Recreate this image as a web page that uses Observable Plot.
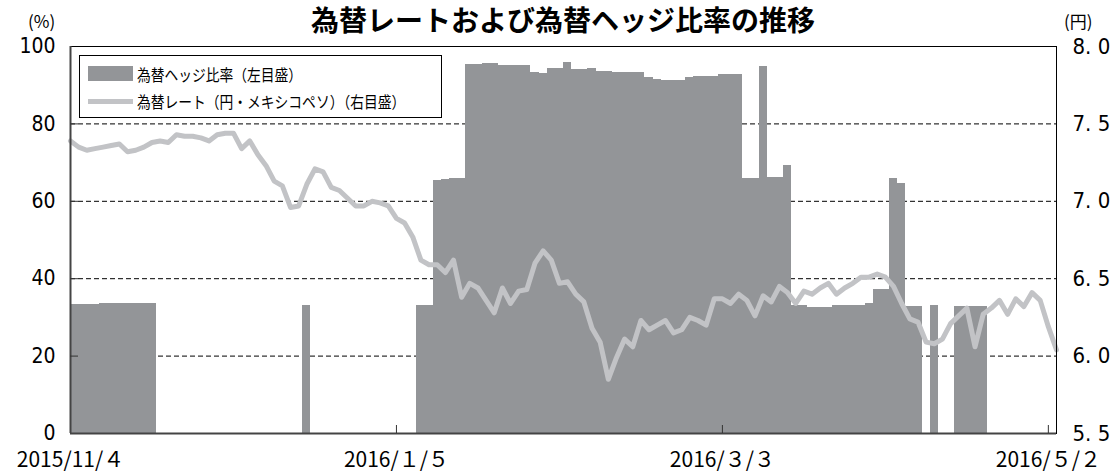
<!DOCTYPE html>
<html>
<head>
<meta charset="utf-8">
<script src="https://cdn.jsdelivr.net/npm/d3@7"></script>
<script src="https://cdn.jsdelivr.net/npm/@observablehq/plot@0.6"></script>
<style>
  body { margin: 0; background: #fff; }
  #wrap { position: relative; width: 1116px; height: 473px; overflow: hidden; font-family: "Noto Sans CJK JP", sans-serif; color: #000; }
  #chart { position: absolute; left: 0; top: 0; }
  #title { position: absolute; left: 70px; width: 986px; top: 1px; text-align: center; font-size: 28px; font-weight: bold; line-height: 36px; white-space: nowrap; }
  .unit { position: absolute; top: 11px; font-size: 17px; line-height: 20px; white-space: nowrap; }
  #legend { position: absolute; left: 79px; top: 55px; width: 363px; height: 63px; border: 1px solid #000; background: #fff; box-sizing: border-box; }
  .sw { position: absolute; left: 8px; width: 45px; }
  .lt { position: absolute; left: 57px; font-size: 16px; line-height: 20px; white-space: nowrap; transform: scaleX(0.86); transform-origin: left center; }
</style>
</head>
<body>
<div id="wrap">
  <div id="chart"></div>
  <div id="title"></div>
  <div class="unit" id="unitL" style="left:28px;"></div>
  <div class="unit" id="unitR" style="left:1064px;"></div>
  <div id="legend">
    <div class="sw" style="top:10px;height:15px;background:#939598;"></div>
    <div class="lt" id="leg1" style="top:8px;"></div>
    <div class="sw" style="top:43px;height:5px;background:#c2c3c6;"></div>
    <div class="lt" id="leg2" style="top:35px;"></div>
  </div>
</div>
<script>
// ---- data ----
const titleText = "為替レートおよび為替ヘッジ比率の推移";
const unitLeft = "(%)";
const unitRight = "(円)";
const seriesNames = ["為替ヘッジ比率（左目盛）", "為替レート（円・メキシコペソ）（右目盛）"];

// x tick labels (business-day index positions)
const tickIndex = [0, 40, 80, 120];
const tickLabels = ["2015/11/４", "2016/１/５", "2016/３/３", "2016/５/２"];

const leftTicks = [0, 20, 40, 60, 80, 100];
const rightMin = 5.5, rightMax = 8.0;
const rightTicks = [5.5, 6.0, 6.5, 7.0, 7.5, 8.0];

// hedge ratio (%) per business day
const hedgeRatio = [
  33.3, 33.3, 33.3, 33.3, 33.6, 33.6, 33.6, 33.6, 33.6, 33.6, 33.6,
  0, 0, 0, 0, 0, 0, 0, 0, 0, 0, 0, 0, 0, 0, 0, 0, 0, 0,
  33.0,
  0, 0, 0, 0, 0, 0, 0, 0, 0, 0, 0, 0, 0,
  33.0, 33.0,
  65.5, 65.7, 65.9, 66.0,
  95.4, 95.4, 95.6, 95.6,
  95.1, 95.1, 95.1, 95.1,
  93.4, 92.9, 94.3, 94.3, 95.9, 94.0, 94.0, 94.3, 93.6, 93.6,
  93.4, 93.4, 93.4, 93.2, 92.1, 91.6, 91.2, 91.2, 91.2, 91.9,
  92.3, 92.3, 92.3, 92.7, 92.7, 92.8,
  65.9, 66.0, 94.9, 66.1, 66.1, 69.3,
  33.1, 33.1, 32.6, 32.6, 32.6, 33.2, 33.2, 33.2, 33.2, 33.6,
  37.2, 37.2, 65.8, 64.5, 32.8, 32.8, 0, 33.1, 0, 0,
  32.9, 32.9, 32.9, 32.9,
  0, 0, 0, 0, 0, 0, 0, 0, 0
];

// JPY per MXN per business day
const rateJPYMXN = [
  7.39, 7.35, 7.33, 7.34, 7.35, 7.36, 7.37, 7.32, 7.33, 7.35,
  7.38, 7.39, 7.38, 7.43, 7.42, 7.42, 7.41, 7.39, 7.43, 7.44,
  7.44, 7.34, 7.39, 7.30, 7.23, 7.13, 7.10, 6.96, 6.97, 7.11,
  7.21, 7.19, 7.09, 7.07, 7.02, 6.97, 6.97, 7.00, 6.99, 6.97,
  6.89, 6.86, 6.77, 6.62, 6.59, 6.59, 6.54, 6.62, 6.38, 6.47,
  6.44, 6.36, 6.28, 6.44, 6.34, 6.42, 6.43, 6.60, 6.68, 6.62,
  6.47, 6.48, 6.40, 6.35, 6.18, 6.09, 5.85, 5.99, 6.11, 6.06,
  6.23, 6.17, 6.20, 6.23, 6.15, 6.17, 6.25, 6.23, 6.20, 6.37,
  6.37, 6.34, 6.40, 6.36, 6.26, 6.39, 6.35, 6.45, 6.41, 6.34,
  6.42, 6.40, 6.44, 6.47, 6.40, 6.44, 6.47, 6.51, 6.51, 6.53,
  6.51, 6.45, 6.34, 6.24, 6.22, 6.09, 6.08, 6.11, 6.21, 6.26,
  6.31, 6.06, 6.27, 6.31, 6.36, 6.27, 6.37, 6.32, 6.41, 6.36,
  6.19, 6.04
];

// ---- build ----
document.getElementById("title").textContent = titleText;
document.getElementById("unitL").textContent = unitLeft;
document.getElementById("unitR").textContent = unitRight;
document.getElementById("leg1").textContent = seriesNames[0];
document.getElementById("leg2").textContent = seriesNames[1];

const data = hedgeRatio.map((h, i) => ({ i, hedge: h, rate: rateJPYMXN[i] }));
const toLeft = v => (v - rightMin) / (rightMax - rightMin) * 100;
const fromLeft = p => rightMin + p / 100 * (rightMax - rightMin);
const numFont = '"Liberation Sans Narrow", "Arial Narrow", "DejaVu Sans Condensed", sans-serif';

const chart = Plot.plot({
  width: 1116,
  height: 473,
  marginTop: 46,
  marginBottom: 40,
  marginLeft: 70,
  marginRight: 60,
  x: { domain: [0, hedgeRatio.length - 1], axis: null },
  y: { domain: [0, 100], axis: null },
  style: { background: "transparent", fontFamily: numFont, color: "#000" },
  marks: [
    Plot.ruleY(leftTicks.filter(t => t > 0 && t < 100), { stroke: "#000", strokeWidth: 1, strokeDasharray: "5,3" }),
    Plot.rectY(data.filter(d => d.hedge > 0), {
      x1: d => d.i - 0.5, x2: d => d.i + 0.5, y1: 0, y2: "hedge",
      fill: "#939598", clip: true, shapeRendering: "crispEdges"
    }),
    Plot.lineY(data, { x: "i", y: d => toLeft(d.rate), stroke: "#c2c3c6", strokeWidth: 5, strokeLinejoin: "round" }),
    Plot.frame({ stroke: "#000", strokeWidth: 1 }),
    Plot.ruleX([0], { stroke: "#444", strokeWidth: 2 }),
    Plot.ruleY([0], { stroke: "#444", strokeWidth: 2 }),
    Plot.axisY({ ticks: leftTicks, anchor: "left", label: null, tickSize: 0, tickPadding: 15, fontSize: 21, fontFamily: numFont, tickFormat: d => String(d) }),
    Plot.axisY({ ticks: leftTicks.filter(t => t > 0 && t < 100), anchor: "left", label: null, tickSize: -8, text: null, stroke: "#333" }),
    Plot.axisY({ ticks: rightTicks.map(toLeft), anchor: "right", label: null, tickSize: 0, tickPadding: 16, fontSize: 22, fontFamily: numFont,
      tickFormat: d => fromLeft(d).toFixed(1).replace(".", ". ") }),
    Plot.axisX({ ticks: tickIndex, anchor: "bottom", label: null, tickSize: 0, tickPadding: 19, fontSize: 21, fontFamily: "Noto Sans CJK JP",
      tickFormat: d => tickLabels[tickIndex.indexOf(d)] }),
    Plot.axisX({ ticks: tickIndex.filter(t => t > 0), anchor: "bottom", label: null, tickSize: -8, text: null, stroke: "#333" })
  ]
});
document.getElementById("chart").appendChild(chart);
</script>
</body>
</html>
